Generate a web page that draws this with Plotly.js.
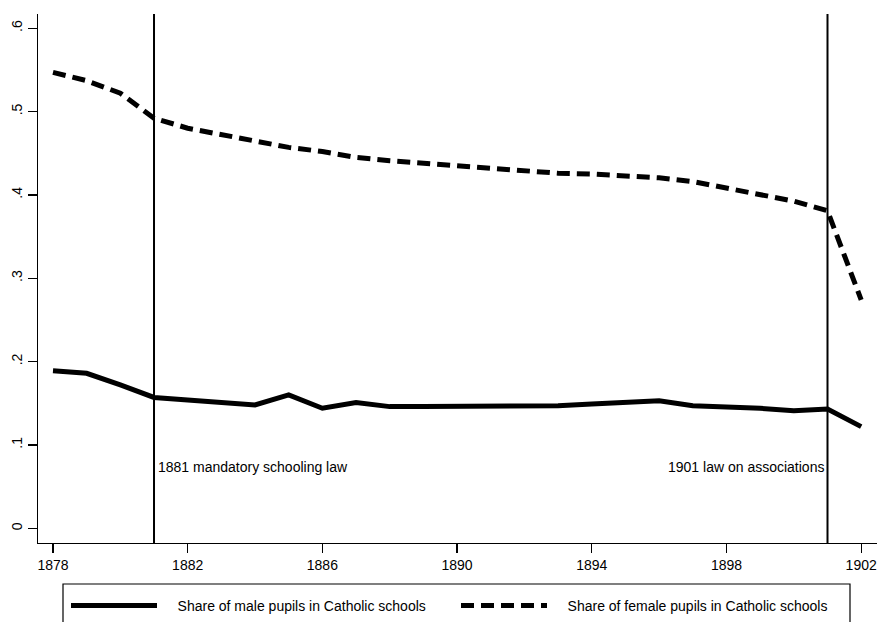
<!DOCTYPE html>
<html>
<head>
<meta charset="utf-8">
<script src="https://cdn.plot.ly/plotly-3.0.1.min.js"></script>
<style>
  html, body { margin: 0; padding: 0; background: #fff; }
  #chart { width: 877px; height: 622px; }
</style>
</head>
<body>
<div id="chart"></div>
<script>
const years = [1878, 1879, 1880, 1881, 1882, 1883, 1884, 1885, 1886, 1887, 1888, 1889, 1890,
               1891, 1892, 1893, 1894, 1895, 1896, 1897, 1898, 1899, 1900, 1901, 1902];
const maleShare = [0.189, 0.186, 0.172, 0.157, 0.154, 0.151, 0.148, 0.160, 0.144, 0.151, 0.146, 0.146, 0.146,
                   0.146, 0.146, 0.147, 0.149, 0.151, 0.153, 0.147, 0.146, 0.144, 0.141, 0.143, 0.122];
const femaleShare = [0.547, 0.537, 0.522, 0.492, 0.480, 0.472, 0.464, 0.457, 0.452, 0.445, 0.441, 0.438, 0.434,
                     0.431, 0.428, 0.426, 0.425, 0.4235, 0.4205, 0.416, 0.408, 0.401, 0.3925, 0.381, 0.274];
const seriesNames = ["Share of male pupils in Catholic schools", "Share of female pupils in Catholic schools"];
const eventYears = [1881, 1901];
const eventLabels = ["1881 mandatory schooling law", "1901 law on associations"];
const eventLabelY = [0.0736, 0.0736];
const xTickVals = [1878, 1882, 1886, 1890, 1894, 1898, 1902];
const xTickText = ["1878", "1882", "1886", "1890", "1894", "1898", "1902"];
const yTickVals = [0, 0.1, 0.2, 0.3, 0.4, 0.5, 0.6];
const yTickText = ["0", ".1", ".2", ".3", ".4", ".5", ".6"];

const FONT = "Liberation Sans, Arial, Helvetica, sans-serif";
const PAD = "\u00a0\u00a0\u00a0\u00a0";

const traces = [
  { x: years, y: maleShare, name: PAD + seriesNames[0], type: "scatter", mode: "lines",
    line: { color: "#000", width: 5, shape: "linear" } },
  { x: years, y: femaleShare, name: PAD + seriesNames[1], type: "scatter", mode: "lines",
    line: { color: "#000", width: 5, dash: "13px,7px" } }
];

// Plot area in pixels: left 38, right 877, top 14, bottom 543
const pxToPaperX = px => (px - 38) / 839;
const pxToPaperY = py => (543 - py) / 529;

const shapes = eventYears.map(yr => ({
  type: "line", xref: "x", yref: "paper", x0: yr, x1: yr, y0: 0, y1: 1,
  line: { color: "#000", width: 2 }
}));
shapes.push({
  type: "rect", xref: "paper", yref: "paper",
  x0: pxToPaperX(63), x1: pxToPaperX(850), y0: pxToPaperY(640), y1: pxToPaperY(584),
  line: { color: "#000", width: 1.2 }, fillcolor: "rgba(0,0,0,0)", layer: "below"
});

const annotations = eventYears.map((yr, i) => ({
  x: yr, y: eventLabelY[i], xref: "x", yref: "y",
  text: eventLabels[i], showarrow: false,
  xanchor: i === 0 ? "left" : "right",
  xshift: i === 0 ? 2 : -2,
  font: { family: FONT, size: 14, color: "#000" }
}));

const layout = {
  width: 877, height: 622,
  margin: { l: 38, r: 0, t: 14, b: 79, autoexpand: false },
  paper_bgcolor: "#fff", plot_bgcolor: "#fff",
  font: { family: FONT, size: 13, color: "#000" },
  showlegend: true,
  legend: {
    orientation: "h",
    x: pxToPaperX(66), xanchor: "left",
    y: pxToPaperY(606), yanchor: "middle",
    itemwidth: 86, entrywidth: 289, entrywidthmode: "pixels",
    bgcolor: "rgba(0,0,0,0)", borderwidth: 0,
    font: { family: FONT, size: 14, color: "#000" },
    traceorder: "normal"
  },
  xaxis: {
    range: [1877.555, 1902.47],
    tickvals: xTickVals, ticktext: xTickText,
    ticks: "outside", ticklen: 9, tickwidth: 1.3, tickcolor: "#000",
    ticklabelstandoff: 0,
    showline: true, linecolor: "#000", linewidth: 1.3,
    showgrid: false, zeroline: false,
    tickfont: { family: FONT, size: 14, color: "#000" }
  },
  yaxis: {
    range: [-0.0176, 0.617],
    tickvals: yTickVals, ticktext: yTickText,
    ticks: "outside", ticklen: 9, tickwidth: 1.3, tickcolor: "#000",
    tickangle: -90,
    showline: true, linecolor: "#000", linewidth: 1.3,
    showgrid: false, zeroline: false,
    tickfont: { family: FONT, size: 14, color: "#000" }
  },
  shapes: shapes,
  annotations: annotations
};

Plotly.newPlot("chart", traces, layout, { displayModeBar: false, staticPlot: true });
</script>
</body>
</html>
